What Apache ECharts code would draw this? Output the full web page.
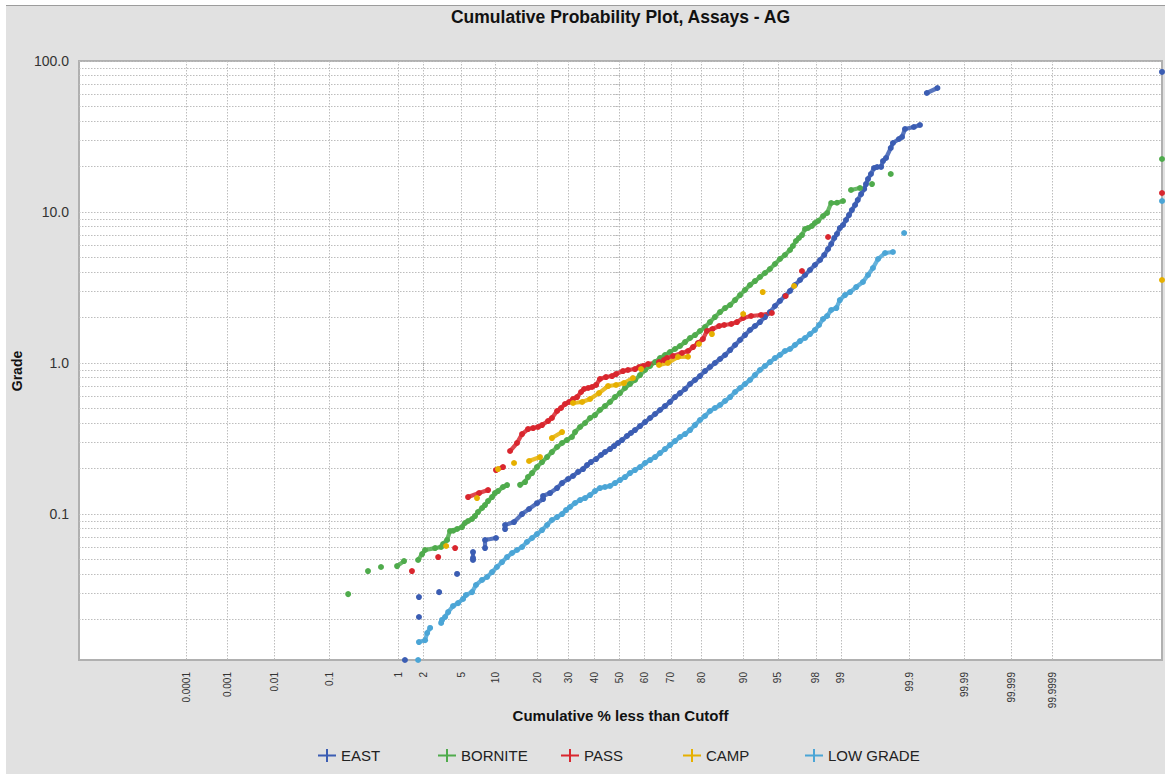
<!DOCTYPE html>
<html>
<head>
<meta charset="utf-8">
<script src="https://cdn.jsdelivr.net/npm/echarts@6/dist/echarts.min.js"></script>
<style>
html,body{margin:0;padding:0;background:#fff;}
#panel{position:absolute;left:6px;top:5px;width:1159px;height:769px;background:#e1e1e1;border-top:1px solid #9c9c9c;box-sizing:border-box;}
#c{position:absolute;left:0;top:0;width:1165px;height:774px;}
</style>
</head>
<body>
<div id="panel"></div>
<div id="c"></div>
<script>
// ---------- data ----------
const seriesNames = ['EAST', 'BORNITE', 'PASS', 'CAMP', 'LOW GRADE'];
const seriesColors = ['#3b5db3', '#4fab4c', '#d9262e', '#e6b000', '#4ba5d6'];

const xTickLabels = ['0.0001','0.001','0.01','0.1','1','2','5','10','20','30','40','50','60','70','80','90','95','98','99','99.9','99.99','99.999','99.9999'];
const yTickLabels = [0.1, 1, 10, 100];
const yGridValues = [0.02,0.03,0.04,0.05,0.06,0.07,0.08,0.09,0.1,0.2,0.3,0.4,0.5,0.6,0.7,0.8,0.9,1,2,3,4,5,6,7,8,9,10,20,30,40,50,60,70,80,90,100];

// [cumulative %, grade]
const east = [[1.217,0.0108],[1.79,0.0208],[1.79,0.0282],[3.0,0.0304],[4.57,0.0401],[6.45,0.0496],[6.45,0.0511],[6.45,0.0560],[8.22,0.0595],[8.22,0.0673],[10.13,0.0694],[11.92,0.0795],[11.92,0.0846],[13.9,0.0885],[15.85,0.100],[17.67,0.108],[19.9,0.118],[21.7,0.1257],[21.7,0.1316],[23.89,0.1377],[26.2,0.1486],[27.9,0.1604],[30.0,0.1706],[31.8,0.1786],[33.7,0.190],[35.56,0.1986],[37.1,0.211],[38.6,0.221],[40.6,0.2313],[42.55,0.246],[44.16,0.2575],[46.18,0.2694],[47.8,0.282],[49.4,0.2953],[51.0,0.309],[53.0,0.3286],[54.6,0.344],[56.24,0.360],[58.24,0.3826],[60.22,0.4067],[62.17,0.4323],[64.1,0.4595],[65.98,0.4884],[67.83,0.519],[69.64,0.5518],[71.41,0.5953],[73.14,0.6328],[74.83,0.6727],[76.45,0.7262],[78.01,0.7718],[79.5,0.820],[80.95,0.885],[82.33,0.9408],[83.64,1.0],[84.92,1.063],[86.12,1.130],[87.26,1.219],[88.31,1.316],[89.31,1.420],[90.24,1.532],[91.12,1.654],[91.94,1.758],[92.70,1.868],[93.41,2.016],[94.06,2.176],[94.67,2.385],[95.22,2.574],[95.73,2.778],[96.20,2.998],[96.62,3.286],[97.01,3.545],[97.36,3.826],[97.67,4.129],[97.95,4.457],[98.21,4.810],[98.4,5.191],[98.56,5.689],[98.68,6.140],[98.79,6.727],[98.88,7.150],[98.97,7.834],[99.06,8.20],[99.14,8.85],[99.215,9.55],[99.28,10.31],[99.347,11.13],[99.40,12.01],[99.46,13.15],[99.51,14.20],[99.538,15.32],[99.567,16.54],[99.607,17.85],[99.645,19.56],[99.68,19.86],[99.72,19.9],[99.738,21.77],[99.764,22.79],[99.80,26.53],[99.815,28.64],[99.851,30.44],[99.867,31.38],[99.881,35.46],[99.915,36.56],[99.933,37.69],[99.949,61.4],[99.967,66.25],[100,84.6]];

const bornite = [[0.199,0.0295],[0.392,0.0419],[0.596,0.0446],[0.969,0.0452],[1.185,0.0488],[1.75,0.0496],[1.946,0.0543],[2.103,0.0578],[2.715,0.0595],[3.15,0.0605],[3.30,0.0633],[3.63,0.0673],[3.89,0.0772],[4.18,0.0775],[4.57,0.0796],[5.10,0.0820],[5.44,0.0872],[5.81,0.0899],[6.32,0.0927],[6.72,0.0970],[7.15,0.1031],[7.75,0.1096],[8.22,0.1147],[8.72,0.1219],[9.41,0.1296],[9.94,0.1377],[10.5,0.1420],[11.5,0.1510],[12.35,0.1556],[15.35,0.1560],[16.61,0.1629],[17.4,0.1758],[18.5,0.1868],[19.9,0.2047],[21.4,0.2210],[22.95,0.2384],[24.5,0.2574],[26.2,0.2778],[27.9,0.2953],[29.6,0.3090],[31.4,0.3236],[32.55,0.349],[34.42,0.3769],[36.32,0.4006],[38.25,0.4323],[40.19,0.4524],[42.15,0.4884],[44.16,0.519],[46.18,0.5518],[48.19,0.5953],[50.2,0.6328],[52.21,0.6832],[54.22,0.7262],[56.24,0.7718],[58.24,0.8326],[60.22,0.8989],[62.17,0.9553],[64.1,1.015],[65.98,1.079],[67.83,1.130],[69.64,1.183],[71.41,1.238],[73.14,1.296],[74.83,1.377],[76.45,1.464],[78.01,1.532],[79.5,1.629],[80.95,1.731],[82.33,1.868],[83.64,2.016],[84.92,2.176],[86.12,2.313],[87.26,2.422],[88.31,2.613],[89.31,2.820],[90.24,3.044],[91.12,3.286],[91.94,3.491],[92.70,3.711],[93.41,3.945],[94.06,4.194],[94.67,4.525],[95.22,4.884],[95.73,5.191],[96.20,5.603],[96.45,5.955],[96.7,6.427],[96.93,6.727],[97.15,7.04],[97.36,7.716],[97.55,7.834],[97.78,8.077],[97.95,8.455],[98.11,8.717],[98.35,9.409],[98.52,9.849],[98.68,11.47],[98.88,11.52],[99.06,11.83],[99.26,13.99],[99.44,14.42],[99.62,15.32],[99.80,17.85],[100,22.44]];

const pass = [[1.48,0.0419],[2.93,0.0519],[4.37,0.0595],[5.81,0.1296],[7.30,0.1377],[8.72,0.1442],[10.13,0.1956],[11.5,0.2047],[13.0,0.2614],[14.6,0.2953],[15.85,0.3387],[17.4,0.3655],[18.8,0.3711],[20.2,0.3769],[21.4,0.3885],[23.25,0.4129],[24.5,0.4323],[26.2,0.4810],[27.55,0.5035],[28.93,0.5353],[30.35,0.5518],[31.8,0.5777],[33.3,0.5953],[34.8,0.6426],[35.95,0.6727],[37.5,0.6832],[39.0,0.6937],[40.6,0.7151],[42.15,0.7837],[44.55,0.8077],[46.98,0.820],[48.6,0.8455],[51.4,0.885],[53.4,0.8989],[56.24,0.9125],[57.85,0.9408],[59.4,0.9553],[61.4,0.9849],[65.6,1.015],[67.45,1.047],[68.55,1.079],[70.7,1.113],[73.8,1.165],[75.8,1.201],[77.4,1.276],[78.9,1.357],[80.35,1.442],[81.5,1.629],[83.0,1.680],[84.7,1.758],[85.9,1.785],[87.5,1.813],[88.7,1.868],[89.9,1.986],[91.3,2.048],[92.85,2.079],[94.3,2.144],[95.8,2.778],[97.15,4.067],[98.56,6.83],[100,13.36]];

const camp = [[3.55,0.0614],[7.0,0.1276],[10.5,0.1986],[13.9,0.2177],[17.67,0.2244],[20.79,0.2384],[24.5,0.3186],[27.9,0.349],[31.8,0.5434],[35.2,0.5518],[38.25,0.5777],[41.8,0.6328],[45.4,0.7041],[48.6,0.7151],[51.8,0.7371],[55.4,0.7956],[58.65,0.9125],[65.6,0.9700],[68.9,1.0],[72.45,1.096],[75.8,1.10],[79.2,1.336],[82.85,1.556],[89.9,2.111],[93.1,2.952],[96.55,3.236],[100,3.545]];

const lowGrade = [[1.75,0.0108],[1.79,0.0142],[2.103,0.0146],[2.22,0.0163],[2.395,0.0176],[3.15,0.0190],[3.22,0.0199],[3.46,0.0208],[3.72,0.0224],[4.17,0.0246],[4.67,0.0257],[5.22,0.0274],[5.56,0.0291],[6.32,0.0304],[6.86,0.0339],[7.75,0.0366],[8.55,0.0383],[9.41,0.0413],[10.3,0.0446],[11.3,0.0481],[12.35,0.0519],[13.45,0.0552],[14.6,0.0578],[15.85,0.0605],[17.1,0.0653],[18.5,0.0694],[19.9,0.0737],[21.4,0.0783],[22.95,0.0846],[24.5,0.0913],[26.2,0.0955],[27.9,0.100],[29.3,0.1063],[30.71,0.1113],[32.55,0.1183],[34.42,0.1238],[36.32,0.1276],[38.25,0.1336],[40.19,0.1420],[42.15,0.1486],[44.16,0.1510],[46.18,0.1533],[48.19,0.1604],[50.2,0.1679],[52.21,0.1758],[54.22,0.1868],[56.24,0.1956],[58.24,0.2047],[60.22,0.2177],[62.17,0.2278],[64.1,0.2384],[65.98,0.2535],[67.83,0.2694],[69.64,0.2864],[71.41,0.3044],[73.14,0.3236],[74.83,0.3387],[76.45,0.360],[78.01,0.3885],[79.5,0.4194],[80.95,0.4457],[82.33,0.4810],[83.64,0.5035],[84.92,0.5271],[86.12,0.5603],[87.26,0.5953],[88.31,0.6426],[89.31,0.6832],[90.24,0.7262],[91.12,0.7718],[91.94,0.8326],[92.70,0.8989],[93.41,0.9553],[94.06,1.015],[94.67,1.079],[95.22,1.130],[95.73,1.201],[96.20,1.238],[96.62,1.316],[97.01,1.398],[97.36,1.464],[97.67,1.556],[97.95,1.654],[98.16,1.785],[98.35,1.956],[98.52,2.048],[98.68,2.244],[98.86,2.313],[98.97,2.613],[99.115,2.820],[99.24,2.952],[99.37,3.186],[99.49,3.439],[99.567,3.826],[99.632,4.257],[99.69,4.884],[99.756,5.352],[99.815,5.435],[99.877,7.261],[100,11.83]];

const seriesData = [east, bornite, pass, camp, lowGrade];

// ---------- probability-axis scale ----------
const K = 0.01689;            // slight tail compression of the plot's probability scale
const X_MIN = -5.457, X_MAX = 5.477;
const Y_MIN = 0.0108, Y_MAX = 100;

function probit(p) {
  const a=[-3.969683028665376e+01,2.209460984245205e+02,-2.759285104469687e+02,1.383577518672690e+02,-3.066479806614716e+01,2.506628277459239e+00];
  const b=[-5.447609879822406e+01,1.615858368580409e+02,-1.556989798598866e+02,6.680131188771972e+01,-1.328068155288572e+01];
  const c=[-7.784894002430293e-03,-3.223964580411365e-01,-2.400758277161838e+00,-2.549732539343734e+00,4.374664141464968e+00,2.938163982698783e+00];
  const d=[7.784695709041462e-03,3.224671290700398e-01,2.445134137142996e+00,3.754408661907416e+00];
  const pl = 0.02425, ph = 1 - pl;
  let q, r;
  if (p < pl) { q = Math.sqrt(-2*Math.log(p)); return (((((c[0]*q+c[1])*q+c[2])*q+c[3])*q+c[4])*q+c[5])/((((d[0]*q+d[1])*q+d[2])*q+d[3])*q+1); }
  if (p <= ph) { q = p - 0.5; r = q*q; return (((((a[0]*r+a[1])*r+a[2])*r+a[3])*r+a[4])*r+a[5])*q/(((((b[0]*r+b[1])*r+b[2])*r+b[3])*r+b[4])*r+1); }
  q = Math.sqrt(-2*Math.log(1-p)); return -(((((c[0]*q+c[1])*q+c[2])*q+c[3])*q+c[4])*q+c[5])/((((d[0]*q+d[1])*q+d[2])*q+d[3])*q+1);
}
function toX(pct) {
  if (pct >= 100) return X_MAX;
  if (pct <= 0) return X_MIN;
  const z = probit(pct / 100);
  return Math.max(X_MIN, Math.min(X_MAX, z - K * z * Math.abs(z)));
}
const toY = g => Math.log10(g);

const xTickPos = xTickLabels.map(s => toX(Number(s)));
function xLabel(v) {
  let best = '', bd = 1e9;
  xTickPos.forEach((t, i) => { const dd = Math.abs(t - v); if (dd < bd) { bd = dd; best = xTickLabels[i]; } });
  return best;
}

// layout
const W = 1165, H = 774;
const GRID = { left: 79, right: 3, top: 61, bottom: 114 };
const pxPerX = (W - GRID.left - GRID.right) / (X_MAX - X_MIN);
const pxPerY = (H - GRID.top - GRID.bottom) / (toY(Y_MAX) - toY(Y_MIN));
const MAX_JOIN = 12;   // consecutive points further apart than this (px) are not joined

function buildSeriesData(pts) {
  const out = [];
  let prev = null;
  pts.forEach(([p, g]) => {
    const cur = [toX(p), toY(g)];
    if (prev) {
      const dx = (cur[0] - prev[0]) * pxPerX, dy = (cur[1] - prev[1]) * pxPerY;
      if (Math.hypot(dx, dy) > MAX_JOIN) out.push([cur[0], null]);
    }
    out.push(cur);
    prev = cur;
  });
  return out;
}

const FONT = '"Liberation Sans", Arial, sans-serif';
const gridLine = { color: '#bdbdbd', width: 1, type: [1.5, 1.5] };
const legendX = [318, 438, 561, 683, 805];

const chart = echarts.init(document.getElementById('c'), null, { renderer: 'svg' });
chart.setOption({
  animation: false,
  backgroundColor: 'transparent',
  textStyle: { fontFamily: FONT },
  graphic: [{
    type: 'text', x: 620.5, y: 17, z: 10,
    style: { text: 'Cumulative Probability Plot, Assays - AG', font: 'bold 17.5px ' + FONT, fill: '#111', align: 'center', verticalAlign: 'middle' }
  }, {
    type: 'text', x: 17, y: 371, rotation: Math.PI / 2, z: 10,
    style: { text: 'Grade', font: 'bold 14px ' + FONT, fill: '#111', align: 'center', verticalAlign: 'middle' }
  }],
  grid: { left: GRID.left, right: GRID.right, top: GRID.top, bottom: GRID.bottom, show: true, backgroundColor: '#fff', borderColor: '#b0b0b0', borderWidth: 2 },
  legend: seriesNames.map((name, i) => ({
    data: [name], left: legendX[i], top: 748, padding: 0, itemWidth: 18, itemHeight: 13, itemGap: 0,
    icon: 'path://M0,5.6H18V7.4H0Z M8,0H10V13H8Z',
    textStyle: { color: '#222', fontSize: 15, fontFamily: FONT },
    selectedMode: false
  })),
  xAxis: {
    type: 'value', min: X_MIN, max: X_MAX,
    axisLine: { show: false },
    axisTick: { show: true, customValues: xTickPos, length: 8, lineStyle: { color: '#aaa', type: [1, 1] } },
    splitLine: { show: true, lineStyle: gridLine },
    axisLabel: { customValues: xTickPos, rotate: 90, fontSize: 10, color: '#333', margin: 12, formatter: xLabel },
    name: 'Cumulative % less than Cutoff', nameLocation: 'middle', nameGap: 48, nameMoveOverlap: false,
    nameTextStyle: { fontWeight: 'bold', fontSize: 15, color: '#111' }
  },
  yAxis: {
    type: 'value', min: toY(Y_MIN), max: toY(Y_MAX),
    axisLine: { show: false },
    axisTick: { show: true, customValues: yGridValues.map(toY), length: 5, lineStyle: { color: '#aaa', type: [1, 1] } },
    splitLine: { show: true, lineStyle: gridLine },
    axisLabel: { customValues: yTickLabels.map(toY), fontSize: 14, color: '#333', margin: 10, formatter: v => Math.pow(10, v).toFixed(1) }
  },
  series: seriesNames.map((name, i) => ({
    name, type: 'line', clip: false, connectNulls: false,
    data: buildSeriesData(seriesData[i]),
    symbol: 'circle', symbolSize: 6, showSymbol: true,
    itemStyle: { color: seriesColors[i] },
    lineStyle: { color: seriesColors[i], width: 4.2, opacity: 0.85 },
    emphasis: { disabled: true }
  }))
});
</script>
</body>
</html>
